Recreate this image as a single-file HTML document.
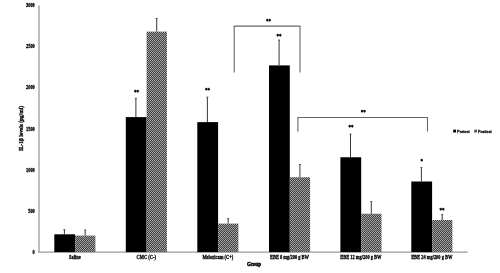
<!DOCTYPE html>
<html><head><meta charset="utf-8"><title>IL-1β levels</title>
<style>
html,body{margin:0;padding:0;background:#fff;}
body{width:500px;height:273px;overflow:hidden;}
svg{display:block;}
.t{font-family:"Liberation Serif",serif;font-weight:bold;font-size:4.6px;fill:#000;stroke:#000;stroke-width:0.3px;}
.g{stroke-width:0.5px;}
.l{font-family:"Liberation Sans",sans-serif;font-size:3.95px;fill:#000;stroke:#000;stroke-width:0.28px;}
</style></head><body>
<svg width="500" height="273" viewBox="0 0 500 273">
<defs>
<pattern id="h" width="2" height="4" patternUnits="userSpaceOnUse">
<rect width="2" height="4" fill="#505050"/>
<rect x="0" y="0" width="1" height="1" fill="#b8b8b8"/><rect x="1" y="0" width="1" height="1" fill="#2e2e2e"/>
<rect x="1" y="1" width="1" height="1" fill="#a0a0a0"/><rect x="0" y="1" width="1" height="1" fill="#424242"/>
<rect x="0" y="2" width="1" height="1" fill="#888888"/><rect x="1" y="2" width="1" height="1" fill="#585858"/>
<rect x="1" y="3" width="1" height="1" fill="#989898"/><rect x="0" y="3" width="1" height="1" fill="#484848"/>
</pattern>
</defs>
<rect width="500" height="273" fill="#fff"/>

<line x1="39" y1="5.6" x2="39" y2="252.79999999999998" stroke="#a8a8a8" stroke-width="1.5"/>
<line x1="38.25" y1="252.1" x2="467.7" y2="252.1" stroke="#9a9a9a" stroke-width="1.15"/>
<text class="t" transform="translate(34.80,254.10) scale(0.79,1)" text-anchor="end" style="font-size:5.6px">0</text>
<text class="t" transform="translate(34.80,212.92) scale(0.79,1)" text-anchor="end" style="font-size:5.6px">500</text>
<text class="t" transform="translate(34.80,171.73) scale(0.79,1)" text-anchor="end" style="font-size:5.6px">1000</text>
<text class="t" transform="translate(34.80,130.55) scale(0.79,1)" text-anchor="end" style="font-size:5.6px">1500</text>
<text class="t" transform="translate(34.80,89.37) scale(0.79,1)" text-anchor="end" style="font-size:5.6px">2000</text>
<text class="t" transform="translate(34.80,48.18) scale(0.79,1)" text-anchor="end" style="font-size:5.6px">2500</text>
<text class="t" transform="translate(34.80,7.00) scale(0.79,1)" text-anchor="end" style="font-size:5.6px">3000</text>
<text class="t" transform="translate(23.00,128.60) rotate(-90) scale(0.93,1)" text-anchor="middle" style="font-size:5.8px">IL-1β levels (pg/ml)</text>
<rect x="54.30" y="234.3" width="20.8" height="17.80" fill="#000"/>
<rect x="75.10" y="235.6" width="20.3" height="16.50" fill="url(#h)"/>
<line x1="64.40" y1="229.70000000000002" x2="64.40" y2="234.3" stroke="#383838" stroke-width="1"/>
<line x1="63.40" y1="229.70000000000002" x2="65.40" y2="229.70000000000002" stroke="#333" stroke-width="0.85"/>
<line x1="85.20" y1="230.0" x2="85.20" y2="235.6" stroke="#383838" stroke-width="1"/>
<line x1="84.20" y1="230.0" x2="86.20" y2="230.0" stroke="#333" stroke-width="0.85"/>
<text class="t" transform="translate(74.80,259.30) scale(0.81,1)" text-anchor="middle" style="font-size:5.5px">Saline</text>
<rect x="125.80" y="117.1" width="20.8" height="135.00" fill="#000"/>
<rect x="146.60" y="31.6" width="20.3" height="220.50" fill="url(#h)"/>
<line x1="135.90" y1="98.4" x2="135.90" y2="117.1" stroke="#383838" stroke-width="1"/>
<line x1="134.90" y1="98.4" x2="136.90" y2="98.4" stroke="#333" stroke-width="0.85"/>
<line x1="156.70" y1="18.5" x2="156.70" y2="31.6" stroke="#383838" stroke-width="1"/>
<line x1="155.70" y1="18.5" x2="157.70" y2="18.5" stroke="#333" stroke-width="0.85"/>
<text class="t" transform="translate(146.30,259.30) scale(0.81,1)" text-anchor="middle" style="font-size:5.5px">CMC (C-)</text>
<rect x="197.30" y="122.1" width="20.8" height="130.00" fill="#000"/>
<rect x="218.10" y="223.6" width="20.3" height="28.50" fill="url(#h)"/>
<line x1="207.40" y1="97.15" x2="207.40" y2="122.1" stroke="#383838" stroke-width="1"/>
<line x1="206.40" y1="97.15" x2="208.40" y2="97.15" stroke="#333" stroke-width="0.85"/>
<line x1="228.20" y1="218.6" x2="228.20" y2="223.6" stroke="#383838" stroke-width="1"/>
<line x1="227.20" y1="218.6" x2="229.20" y2="218.6" stroke="#333" stroke-width="0.85"/>
<text class="t" transform="translate(217.80,259.30) scale(0.81,1)" text-anchor="middle" style="font-size:5.5px">Meloxicam (C+)</text>
<rect x="269.00" y="65.4" width="20.8" height="186.70" fill="#000"/>
<rect x="289.80" y="177.25" width="20.3" height="74.85" fill="url(#h)"/>
<line x1="279.10" y1="40.1" x2="279.10" y2="65.4" stroke="#383838" stroke-width="1"/>
<line x1="278.10" y1="40.1" x2="280.10" y2="40.1" stroke="#333" stroke-width="0.85"/>
<line x1="299.90" y1="164.6" x2="299.90" y2="177.25" stroke="#383838" stroke-width="1"/>
<line x1="298.90" y1="164.6" x2="300.90" y2="164.6" stroke="#333" stroke-width="0.85"/>
<text class="t" transform="translate(289.50,259.30) scale(0.81,1)" text-anchor="middle" style="font-size:5.5px">EBE 6 mg/200 g BW</text>
<rect x="340.40" y="157.25" width="20.8" height="94.85" fill="#000"/>
<rect x="361.20" y="213.75" width="20.3" height="38.35" fill="url(#h)"/>
<line x1="350.50" y1="134.15" x2="350.50" y2="157.25" stroke="#383838" stroke-width="1"/>
<line x1="349.50" y1="134.15" x2="351.50" y2="134.15" stroke="#333" stroke-width="0.85"/>
<line x1="371.30" y1="201.65" x2="371.30" y2="213.75" stroke="#383838" stroke-width="1"/>
<line x1="370.30" y1="201.65" x2="372.30" y2="201.65" stroke="#333" stroke-width="0.85"/>
<text class="t" transform="translate(360.90,259.30) scale(0.81,1)" text-anchor="middle" style="font-size:5.5px">EBE 12 mg/200 g BW</text>
<rect x="411.30" y="181.5" width="20.8" height="70.60" fill="#000"/>
<rect x="432.10" y="220" width="20.3" height="32.10" fill="url(#h)"/>
<line x1="421.40" y1="167.65" x2="421.40" y2="181.5" stroke="#383838" stroke-width="1"/>
<line x1="420.40" y1="167.65" x2="422.40" y2="167.65" stroke="#333" stroke-width="0.85"/>
<line x1="442.20" y1="214.65" x2="442.20" y2="220" stroke="#383838" stroke-width="1"/>
<line x1="441.20" y1="214.65" x2="443.20" y2="214.65" stroke="#333" stroke-width="0.85"/>
<text class="t" transform="translate(431.80,259.30) scale(0.81,1)" text-anchor="middle" style="font-size:5.5px">EBE 24 mg/200 g BW</text>
<text class="t g" transform="translate(254.10,265.80) scale(0.81,1)" text-anchor="middle" style="font-size:6.2px">Group</text>
<text class="t" transform="translate(136.40,94.35) scale(0.8,1)" text-anchor="middle" style="font-size:6.2px">**</text>
<text class="t" transform="translate(207.40,91.85) scale(0.8,1)" text-anchor="middle" style="font-size:6.2px">**</text>
<text class="t" transform="translate(278.90,37.60) scale(0.8,1)" text-anchor="middle" style="font-size:6.2px">**</text>
<text class="t" transform="translate(268.40,22.50) scale(0.8,1)" text-anchor="middle" style="font-size:6.2px">**</text>
<text class="t" transform="translate(363.15,113.85) scale(0.8,1)" text-anchor="middle" style="font-size:6.2px">**</text>
<text class="t" transform="translate(351.00,129.40) scale(0.8,1)" text-anchor="middle" style="font-size:6.2px">**</text>
<text class="t" transform="translate(421.65,163.30) scale(0.8,1)" text-anchor="middle" style="font-size:6.2px">*</text>
<text class="t" transform="translate(441.90,211.90) scale(0.8,1)" text-anchor="middle" style="font-size:6.2px">**</text>
<path d="M234.2 72.5V26.1H300V72.5" fill="none" stroke="#666" stroke-width="1.1"/>
<path d="M297.9 131.4V117.5H427.5V131.4" fill="none" stroke="#666" stroke-width="1.1"/>
<rect x="453.2" y="129.65" width="2.8" height="2.8" fill="#000"/>
<text class="l" x="457" y="132.5">Pretest</text>
<rect x="474.2" y="129.65" width="2.8" height="2.8" fill="#6a6a6a"/><path d="M474.4 132.2L476.8 129.9" stroke="#222" stroke-width="0.7" fill="none"/>
<text class="l" x="477.9" y="132.5" style="font-size:3.8px">Posttest</text>
</svg></body></html>
